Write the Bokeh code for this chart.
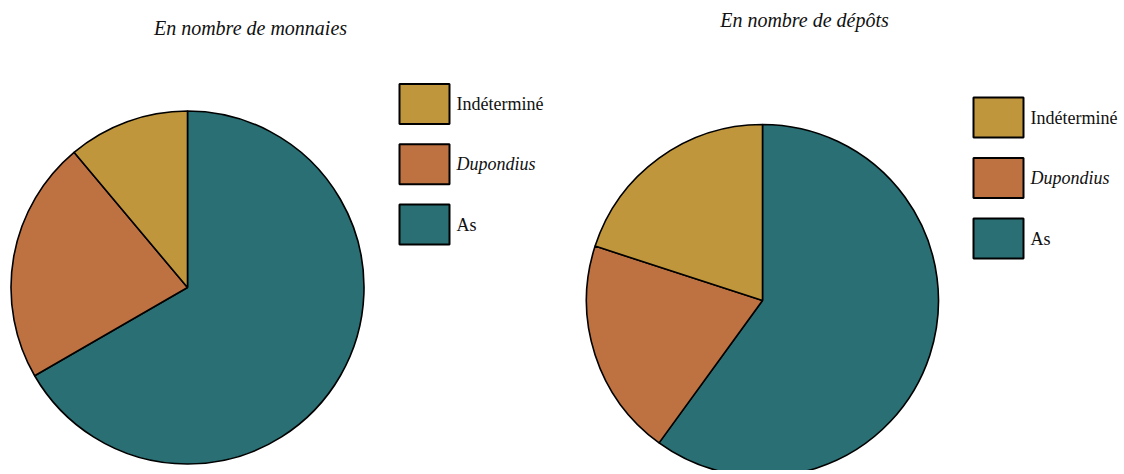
import numpy as np
from bokeh.plotting import figure
from bokeh.models import Range1d, ColumnDataSource
from bokeh.core.properties import value
from bokeh.embed import file_html
from bokeh.resources import INLINE

categories = ["As", "Dupondius", "Indéterminé"]
colors = ["#296f73", "#be7141", "#c0963c"]
monnaies = [18, 6, 3]
depots = [9, 3, 3]
titles = ["En nombre de monnaies", "En nombre de dépôts"]
label_styles = ["normal", "italic", "normal"]

W, H = 1120, 470
p = figure(width=W, height=H, output_backend="svg", toolbar_location=None,
           x_range=Range1d(0, W), y_range=Range1d(0, H), min_border=0)
p.axis.visible = False
p.grid.visible = False
p.outline_line_color = None
p.background_fill_color = "white"
p.border_fill_color = "white"

FONT = "Liberation Serif"

def pie(vals, cx, cy, r, title, tx, ty, lx, ly0, dy):
    v = np.array(vals, dtype=float)
    frac = v / v.sum()
    cum = np.concatenate([[0], np.cumsum(frac)])
    start = np.pi / 2 - 2 * np.pi * cum[:-1]
    end = np.pi / 2 - 2 * np.pi * cum[1:]
    src = ColumnDataSource(dict(start=start, end=end, color=colors, cat=categories))
    p.wedge(x=cx, y=cy, radius=r, start_angle="start", end_angle="end",
            direction="clock", fill_color="color", line_color="black",
            line_width=1.6, source=src)
    p.text(x=[tx], y=[ty], text=[title], text_font=value(FONT),
           text_font_style="italic", text_font_size="20px",
           text_align="center", text_baseline="middle", text_color="#111111")
    order = [2, 1, 0]
    ys = [ly0 - i * dy for i in range(3)]
    lsrc = ColumnDataSource(dict(
        y=ys,
        color=[colors[k] for k in order],
        label=[categories[k] for k in order],
        style=[label_styles[k] for k in order],
    ))
    p.rect(x=lx, y="y", width=50, height=40, fill_color="color",
           line_color="black", line_width=2, source=lsrc)
    p.text(x=lx + 32, y="y", text="label", text_font=value(FONT),
           text_font_style="style", text_font_size="18px",
           text_baseline="middle", text_align="left", text_color="#111111",
           source=lsrc)

pie(monnaies, 187, 183, 176.5, titles[0], 250, 443, 424, 366.5, 60.3)
pie(depots, 762, 170, 176, titles[1], 804, 451, 998, 353, 60.5)

open("out.html", "w").write(file_html(p, INLINE))
